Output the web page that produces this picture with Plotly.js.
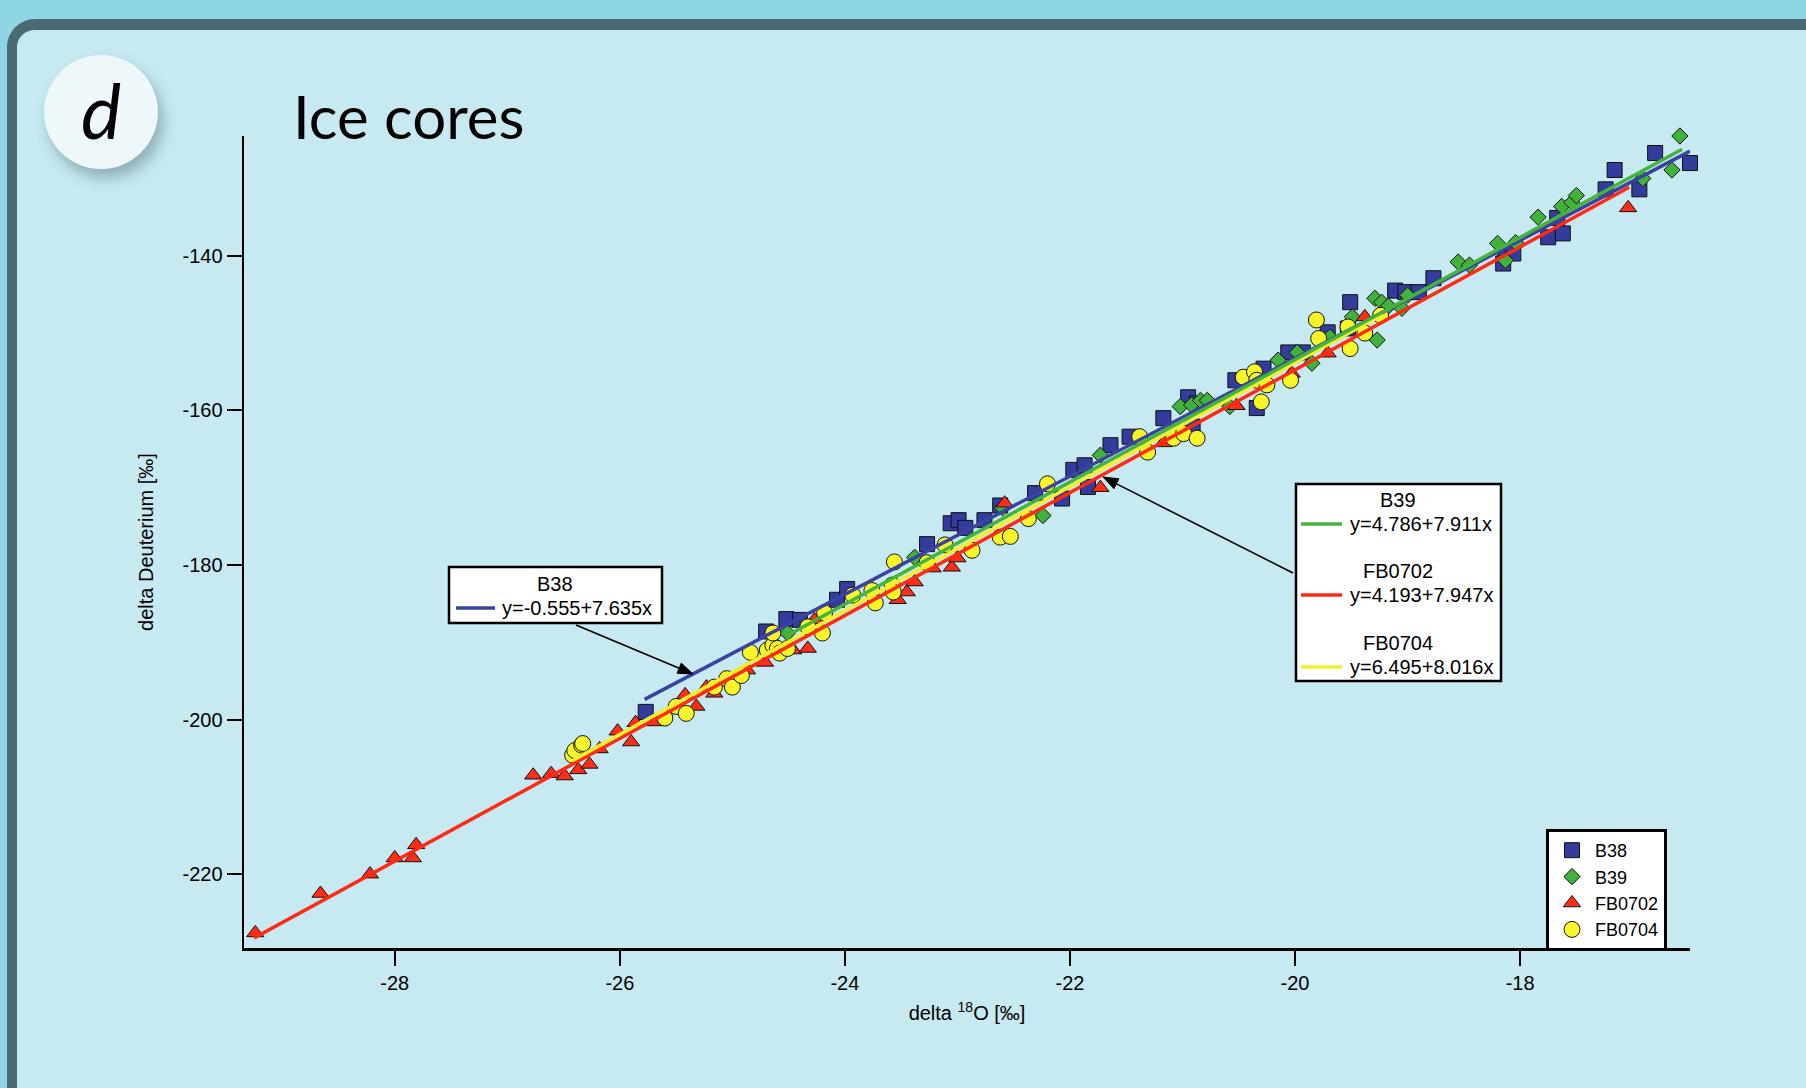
<!DOCTYPE html>
<html>
<head>
<meta charset="utf-8">
<script src="https://cdn.plot.ly/plotly-3.0.1.min.js"></script>
<style>
  html, body { margin:0; padding:0; width:1806px; height:1088px; overflow:hidden; background:#8fd6e4; }
  #panel { position:absolute; left:7px; top:19px; width:1900px; height:1200px; background:#c7e9f1;
           border-top:11px solid #4a6970; border-left:10px solid #4a6970; border-top-left-radius:28px; box-sizing:border-box; }
  #badge { position:absolute; left:44px; top:55px; width:114px; height:114px; border-radius:50%;
           background:#eef7fa; box-shadow:5px 9px 14px rgba(40,70,80,0.35); }
  #chart { position:absolute; left:0; top:0; width:1806px; height:1088px; }
</style>
</head>
<body>
<div id="panel"></div>
<div id="badge"></div>
<div id="chart"></div>
<script>
// ---------------- data ----------------
const seriesNames = ['B38', 'B39', 'FB0702', 'FB0704'];

const b38X = [-25.77, -24.70, -24.52, -24.40, -24.07, -23.98, -23.27, -23.06, -22.99, -22.93, -22.76, -22.62,
  -22.31, -22.07, -21.97, -21.87, -21.84, -21.64, -21.47, -21.17, -20.95, -20.87, -20.91, -20.53, -20.28, -20.34,
  -20.06, -19.93, -19.71, -19.51, -19.53, -19.11, -19.02, -18.90, -18.77, -18.13, -18.15, -18.06, -17.75, -17.62,
  -17.67, -17.16, -17.24, -16.94, -16.80, -16.49];
const b38Y = [-199.0, -188.6, -187.0, -187.1, -184.5, -183.1, -177.3, -174.6, -174.2, -175.2, -174.2, -172.3,
  -170.7, -171.4, -167.7, -167.1, -169.9, -164.5, -163.4, -161.0, -158.3, -159.1, -162.1, -156.1, -154.6, -159.7,
  -152.5, -152.5, -149.9, -146.0, -149.4, -144.5, -144.7, -144.7, -142.9, -139.5, -141.0, -139.7, -137.6, -137.1,
  -135.1, -128.9, -131.4, -131.4, -126.7, -128.0];

const b39X = [-24.51, -23.38, -22.60, -22.24, -21.73, -21.02, -20.92, -20.84, -20.78, -20.58, -20.15, -19.98,
  -19.85, -19.69, -19.49, -19.29, -19.23, -19.17, -19.27, -19.05, -19.00, -18.55, -18.45, -18.20, -18.13, -18.04,
  -17.84, -17.63, -17.54, -17.50, -16.91, -16.65, -16.58];
const b39Y = [-188.8, -179.0, -172.6, -173.6, -165.8, -159.5, -159.3, -158.7, -158.7, -159.5, -153.5, -152.5,
  -153.9, -150.5, -147.9, -145.5, -146.0, -146.5, -150.9, -146.8, -145.1, -140.8, -141.2, -138.4, -140.6, -138.3,
  -135.0, -133.6, -133.1, -132.2, -130.0, -128.9, -124.5];

const fb0702X = [-29.24, -28.66, -28.22, -28.00, -27.84, -27.81, -26.77, -26.61, -26.49, -26.37, -26.27, -26.18,
  -26.02, -25.90, -25.86, -25.69, -25.42, -25.32, -25.23, -25.16, -24.87, -24.71, -24.59, -24.46, -24.33, -24.27,
  -23.53, -23.45, -23.38, -23.22, -23.05, -23.00, -22.58, -21.73, -21.17, -20.52, -20.03, -19.71, -19.38, -17.04];
const fb0702Y = [-227.6, -222.5, -220.0, -217.9, -217.9, -216.2, -207.2, -207.0, -207.3, -206.5, -205.8, -203.8,
  -201.5, -202.9, -200.4, -200.3, -196.8, -198.3, -195.8, -196.6, -193.6, -192.6, -191.2, -191.0, -190.8, -187.1,
  -184.5, -183.5, -182.2, -180.4, -180.3, -179.1, -172.0, -170.0, -164.2, -159.4, -155.2, -152.6, -147.9, -133.8];

const fb0704X = [-26.42, -26.40, -26.34, -26.33, -25.60, -25.50, -25.41, -25.16, -25.05, -25.00, -24.92, -24.84,
  -24.69, -24.64, -24.60, -24.58, -24.51, -24.64, -24.18, -24.20, -24.33, -23.93, -23.76, -23.73, -23.58, -23.57,
  -23.56, -23.27, -23.11, -22.87, -22.62, -22.53, -22.37, -22.20, -21.38, -21.31, -21.08, -20.99, -20.87, -20.46,
  -20.36, -20.34, -20.25, -20.30, -20.04, -19.81, -19.79, -19.53, -19.51, -19.38, -19.24];
const fb0704Y = [-204.6, -204.0, -203.3, -203.1, -199.8, -198.3, -199.2, -195.8, -194.7, -195.8, -194.3, -191.3,
  -191.0, -190.4, -190.8, -191.4, -190.8, -188.8, -186.2, -188.8, -188.0, -183.9, -183.3, -184.9, -182.6, -183.5,
  -179.6, -179.7, -177.4, -178.1, -176.4, -176.3, -174.0, -169.5, -163.4, -165.4, -163.6, -163.0, -163.6, -155.7,
  -155.0, -156.1, -156.7, -158.9, -156.1, -148.3, -150.7, -149.2, -152.0, -150.0, -147.7];

// regression lines (as labelled on the chart) and their drawn extents
const fitIntercepts = [-0.555, 4.786, 4.193, 6.495];
const fitSlopes     = [7.635, 7.911, 7.947, 8.016];
const fitX0 = [-25.78, -24.52, -29.25, -26.41];
const fitX1 = [-16.49, -16.56, -17.03, -19.22];
const fitY0 = [-197.39, -189.19, -228.26, -205.21];
const fitY1 = [-126.46, -126.22, -131.14, -147.58];

const xTickVals = [-28, -26, -24, -22, -20, -18];
const xTickText = ['-28', '-26', '-24', '-22', '-20', '-18'];
const yTickVals = [-220, -200, -180, -160, -140];
const yTickText = ['-220', '-200', '-180', '-160', '-140'];

// ---------------- styling ----------------
const colors   = ['#333c9d', '#41b23b', '#ff2c18', '#f7f42a'];
const lineCols = ['#3a42a2', '#45b43c', '#ff2a14', '#f2f02c'];
const symbols  = ['square', 'diamond', 'triangle-up', 'circle'];
const sizes    = [15, 12.5, 15, 16];
const FONT = '"Liberation Sans", Arial, Helvetica, sans-serif';

const L = 244, R = 1690, T = 136, B = 948;
const px = v => (v - L) / (R - L);
const py = v => (B - v) / (B - T);

const xs = [b38X, b39X, fb0702X, fb0704X];
const ys = [b38Y, b39Y, fb0702Y, fb0704Y];

const traces = [];
for (let i = 0; i < 4; i++) {
  traces.push({
    type: 'scatter', mode: 'markers', name: seriesNames[i], x: xs[i], y: ys[i],
    cliponaxis: false,
    marker: { symbol: symbols[i], size: sizes[i], color: colors[i], line: { color: '#111', width: 1 } },
    hoverinfo: 'x+y+name'
  });
}
const lineOrder = [0, 2, 3, 1];
for (const i of lineOrder) {
  traces.push({
    type: 'scatter', mode: 'lines', showlegend: false, name: seriesNames[i] + ' fit',
    x: [fitX0[i], fitX1[i]], y: [fitY0[i], fitY1[i]], cliponaxis: false,
    line: { color: lineCols[i], width: 3.5 }, hoverinfo: 'skip'
  });
}

const eq = i => 'y=' + fitIntercepts[i].toFixed(3) + '+' + fitSlopes[i].toFixed(3) + 'x';

const shapes = [
  { type: 'rect', xref: 'paper', yref: 'paper', x0: px(449), x1: px(662), y0: py(623), y1: py(567),
    fillcolor: 'white', line: { color: 'black', width: 2.5 }, layer: 'above' },
  { type: 'rect', xref: 'paper', yref: 'paper', x0: px(1296), x1: px(1501), y0: py(681), y1: py(484),
    fillcolor: 'white', line: { color: 'black', width: 2.5 }, layer: 'above' }
];
const sampleRows = [[0, 456, 495, 608], [1, 1301, 1342, 524], [2, 1301, 1342, 595], [3, 1301, 1342, 667]];
for (const [i, a, b, yy] of sampleRows) {
  shapes.push({ type: 'line', xref: 'paper', yref: 'paper', x0: px(a), x1: px(b), y0: py(yy), y1: py(yy),
    line: { color: lineCols[i], width: 3.5 }, layer: 'above' });
}
// callout arrows (tail -> head, figure pixels)
function addArrow(tx, ty, hx, hy) {
  const dx = hx - tx, dy = hy - ty, len = Math.hypot(dx, dy);
  const ux = dx / len, uy = dy / len, hl = 15, hw = 5.5;
  const bx = hx - ux * hl, by = hy - uy * hl;
  shapes.push({ type: 'line', xref: 'paper', yref: 'paper', x0: px(tx), y0: py(ty), x1: px(bx + ux * 2), y1: py(by + uy * 2),
    line: { color: 'black', width: 1.6 }, layer: 'above' });
  const p1 = [bx - uy * hw, by + ux * hw], p2 = [bx + uy * hw, by - ux * hw];
  shapes.push({ type: 'path', xref: 'paper', yref: 'paper',
    path: 'M' + px(hx) + ',' + py(hy) + ' L' + px(p1[0]) + ',' + py(p1[1]) + ' L' + px(p2[0]) + ',' + py(p2[1]) + ' Z',
    fillcolor: 'black', line: { color: 'black', width: 1 }, layer: 'above' });
}
addArrow(576, 625, 693, 674);
addArrow(1293, 573, 1103, 477);

const txtFont = { family: FONT, size: 20, color: 'black' };
const annotations = [
  { xref: 'paper', yref: 'paper', x: px(555), y: py(584), text: seriesNames[0], showarrow: false, font: txtFont, xanchor: 'center', yanchor: 'middle' },
  { xref: 'paper', yref: 'paper', x: px(500), y: py(608), text: eq(0), showarrow: false, font: txtFont, xanchor: 'left', yanchor: 'middle' },
  { xref: 'paper', yref: 'paper', x: px(1398), y: py(500), text: seriesNames[1], showarrow: false, font: txtFont, xanchor: 'center', yanchor: 'middle' },
  { xref: 'paper', yref: 'paper', x: px(1348), y: py(524), text: eq(1), showarrow: false, font: txtFont, xanchor: 'left', yanchor: 'middle' },
  { xref: 'paper', yref: 'paper', x: px(1398), y: py(571), text: seriesNames[2], showarrow: false, font: txtFont, xanchor: 'center', yanchor: 'middle' },
  { xref: 'paper', yref: 'paper', x: px(1348), y: py(595), text: eq(2), showarrow: false, font: txtFont, xanchor: 'left', yanchor: 'middle' },
  { xref: 'paper', yref: 'paper', x: px(1398), y: py(643), text: seriesNames[3], showarrow: false, font: txtFont, xanchor: 'center', yanchor: 'middle' },
  { xref: 'paper', yref: 'paper', x: px(1348), y: py(667), text: eq(3), showarrow: false, font: txtFont, xanchor: 'left', yanchor: 'middle' },
  // panel letter
  { xref: 'paper', yref: 'paper', x: px(101), y: py(110), text: '<i>d</i>', showarrow: false,
    font: { family: 'Lato, "Open Sans", sans-serif', size: 76, color: 'black' }, xanchor: 'center', yanchor: 'middle' }
];

const axisCommon = {
  showline: true, linecolor: 'black', linewidth: 2.5, ticks: 'outside', ticklen: 15, tickwidth: 2,
  tickcolor: 'black', showgrid: false, zeroline: false, mirror: false, tickmode: 'array',
  tickfont: { family: FONT, size: 20, color: 'black' }
};

const layout = {
  width: 1806, height: 1088,
  margin: { l: L, r: 1806 - R, t: T, b: 1088 - B, pad: 0 },
  paper_bgcolor: 'rgba(0,0,0,0)', plot_bgcolor: 'rgba(0,0,0,0)',
  title: { text: 'Ice cores', x: 293 / 1806, xanchor: 'left', xref: 'container', y: 1 - 118 / 1088, yanchor: 'middle', yref: 'container',
           font: { family: 'Lato, "Open Sans", sans-serif', size: 60, color: 'black' } },
  xaxis: Object.assign({}, axisCommon, {
    range: [-29.34, -16.49], tickvals: xTickVals, ticktext: xTickText,
    title: { text: 'delta <sup>18</sup>O [‰]', font: { family: FONT, size: 20, color: 'black' }, standoff: 14 }
  }),
  yaxis: Object.assign({}, axisCommon, {
    range: [-229.55, -124.5], tickvals: yTickVals, ticktext: yTickText,
    title: { text: 'delta Deuterium [‰]', font: { family: FONT, size: 20, color: 'black' }, standoff: 24 }
  }),
  legend: { x: px(1546), y: py(829), xanchor: 'left', yanchor: 'top', bgcolor: 'white', bordercolor: 'black',
            borderwidth: 3, font: { family: FONT, size: 18, color: 'black' }, tracegroupgap: 0, itemwidth: 36 },
  shapes: shapes, annotations: annotations, showlegend: true
};

Plotly.newPlot('chart', traces, layout, { displayModeBar: false, staticPlot: true });
</script>
</body>
</html>
